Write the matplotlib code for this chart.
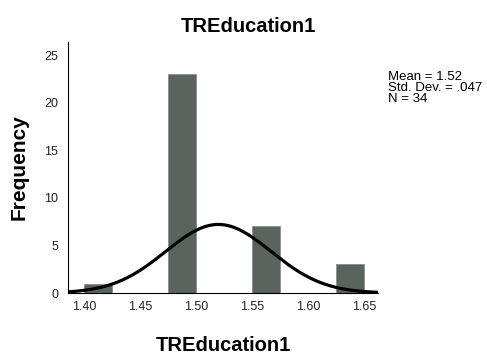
import numpy as np
import matplotlib.pyplot as plt

plt.rcParams['font.family'] = ['Liberation Sans', 'DejaVu Sans']

# histogram bins (left edge, right edge) and counts
bin_left = [1.400, 1.475, 1.550, 1.625]
bin_width = 0.025
counts = [1, 23, 7, 3]

mean = 1.52
std = 0.047
n = 34

xticks = [1.40, 1.45, 1.50, 1.55, 1.60, 1.65]
xtick_labels = ['1.40', '1.45', '1.50', '1.55', '1.60', '1.65']
yticks = [0, 5, 10, 15, 20, 25]

fig = plt.figure(figsize=(4.87, 3.54), dpi=100)
ax = fig.add_axes([0.1396, 0.1723, 0.6364, 0.7087])

ax.bar(bin_left, counts, width=bin_width, align='edge',
       color='#5b635e', edgecolor='#8a8f8c', linewidth=0.6)

# normal curve scaled to the histogram
xs = np.linspace(1.3857, 1.6625, 300)
ys = n * bin_width * np.exp(-0.5 * ((xs - mean) / std) ** 2) / (std * np.sqrt(2 * np.pi))
ax.plot(xs, ys, color='black', linewidth=2.3)

ax.set_xlim(1.3857, 1.6625)
ax.set_ylim(0, 26.4)
ax.set_xticks(xticks)
ax.set_xticklabels(xtick_labels)
ax.set_yticks(yticks)
ax.tick_params(length=0, labelsize=9, colors='#222222')
ax.tick_params(axis='x', pad=6)
ax.tick_params(axis='y', pad=7)

for s in ['top', 'right']:
    ax.spines[s].set_visible(False)
for s in ['left', 'bottom']:
    ax.spines[s].set_color('black')
    ax.spines[s].set_linewidth(0.8)

# title sits centred on the whole figure, not the axes
ax.set_title('TREducation1', fontsize=14.5, fontweight='bold', pad=7, x=0.582)
ax.set_xlabel('TREducation1', fontsize=14.5, fontweight='bold', labelpad=16)
ax.set_ylabel('Frequency', fontsize=15, fontweight='bold', labelpad=11)

fig.text(388 / 487, 1 - 71 / 354, 'Mean = 1.52\nStd. Dev. = .047\nN = 34',
         fontsize=9.5, va='top', ha='left', linespacing=0.9)

fig.savefig('out.png', dpi=100)
